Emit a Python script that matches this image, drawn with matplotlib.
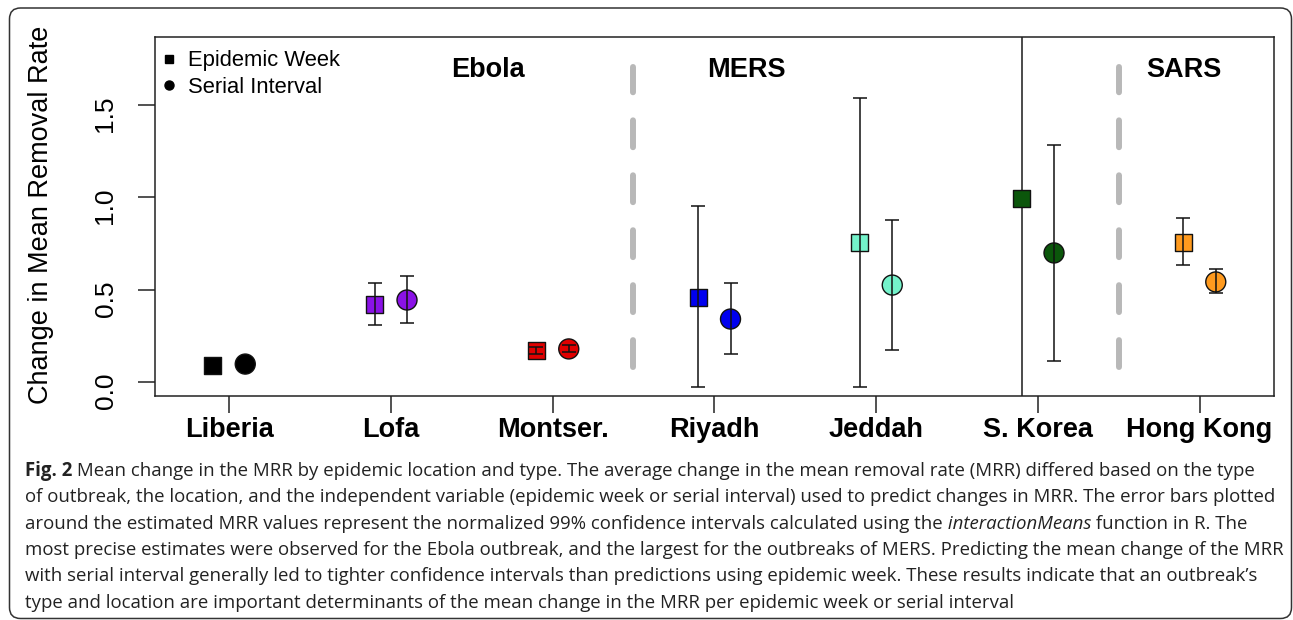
import numpy as np
import matplotlib
matplotlib.use("Agg")
import matplotlib.pyplot as plt
from matplotlib.lines import Line2D
from matplotlib.patches import FancyBboxPatch
from matplotlib.transforms import IdentityTransform

plt.rcParams['font.family'] = ['Liberation Sans', 'DejaVu Sans']

locations = ["Liberia", "Lofa", "Montser.", "Riyadh", "Jeddah", "S. Korea", "Hong Kong"]
colours = ["#000000", "#8a12e6", "#e00000", "#0000ee", "#74f3cb", "#0b560b", "#ff9a1e"]

# epidemic week (squares)
week_mean = [0.087, 0.42, 0.168, 0.46, 0.758, 0.995, 0.758]
week_lo = [0.087, 0.309, 0.149, -0.027, -0.027, 0.995, 0.634]
week_hi = [0.087, 0.536, 0.187, 0.954, 1.538, 0.995, 0.888]

# serial interval (circles)
si_mean = [0.097, 0.444, 0.179, 0.341, 0.525, 0.699, 0.542]
si_lo = [0.097, 0.319, 0.160, 0.152, 0.173, 0.114, 0.482]
si_hi = [0.097, 0.574, 0.198, 0.536, 0.878, 1.284, 0.612]

outbreaks = ["Ebola", "MERS", "SARS"]
outbreak_x = [2.6, 4.2, 6.9]
dashed_breaks = [3.5, 6.5]
solid_break = 5.9

caption = [
    [("Fig. 2", "bold", "normal"),
     (" Mean change in the MRR by epidemic location and type. The average change in the mean removal rate (MRR) differed based on the type", "normal", "normal")],
    [("of outbreak, the location, and the independent variable (epidemic week or serial interval) used to predict changes in MRR. The error bars plotted", "normal", "normal")],
    [("around the estimated MRR values represent the normalized 99% confidence intervals calculated using the", "normal", "normal"),
     (" interactionMeans", "normal", "italic"),
     (" function in R. The", "normal", "normal")],
    [("most precise estimates were observed for the Ebola outbreak, and the largest for the outbreaks of MERS. Predicting the mean change of the MRR", "normal", "normal")],
    [("with serial interval generally led to tighter confidence intervals than predictions using epidemic week. These results indicate that an outbreak\u2019s", "normal", "normal")],
    [("type and location are important determinants of the mean change in the MRR per epidemic week or serial interval", "normal", "normal")],
]
# right end of the lines in the reference, pixels
caption_ends = [1269, 1271, 1262, 1276, 1250, 900]

W, H = 1293, 620
fig = plt.figure(figsize=(W / 100, H / 100), dpi=100)
ax = fig.add_axes([155 / W, 1 - 396 / H, (1274 - 155) / W, (396 - 37) / H])

x = np.arange(1, len(locations) + 1)
xw = x - 0.1
xs = x + 0.1

# separators
for b in dashed_breaks:
    ax.plot([b, b], [0.081, 1.706], color="#b8b8b8", lw=4.3,
            dashes=(4.5, 4.7), dash_capstyle="round", zorder=1)
ax.axvline(solid_break, color="#1a1a1a", lw=1.1, zorder=1)

# points
ax.scatter(xw, week_mean, marker="s", s=12.2 ** 2, c=colours,
           edgecolors="#111111", linewidths=1.0, zorder=2)
ax.scatter(xs, si_mean, marker="o", s=14.4 ** 2, c=colours,
           edgecolors="#111111", linewidths=1.0, zorder=2)

# error bars on top (skip the ones with no width)
for xp, mean, lo, hi in [(xw, week_mean, week_lo, week_hi), (xs, si_mean, si_lo, si_hi)]:
    mean, lo, hi = np.array(mean), np.array(lo), np.array(hi)
    m = hi > lo
    ax.errorbar(xp[m], mean[m], yerr=[mean[m] - lo[m], hi[m] - mean[m]],
                fmt="none", ecolor="#111111", elinewidth=1.1, capsize=4.7,
                capthick=1.1, zorder=3)

for name, ox in zip(outbreaks, outbreak_x):
    ax.text(ox, 1.69, name, ha="center", va="center", fontsize=19.5, fontweight="bold")

ax.set_xlim(0.542, 7.46)
ax.set_ylim(-0.076, 1.869)
ax.set_xticks(x)
ax.set_xticklabels(locations, fontsize=19.5, fontweight="bold")
ax.set_yticks([0, 0.5, 1.0, 1.5])
ax.set_yticklabels(["0.0", "0.5", "1.0", "1.5"], fontsize=19)
ax.tick_params(axis="y", labelrotation=90, length=12, width=1.1, pad=15, color="#222222")
ax.tick_params(axis="x", length=12, width=1.1, pad=3, color="#222222")
for s in ax.spines.values():
    s.set_linewidth(1.1)
    s.set_color("#222222")

ax.set_ylabel("Change in Mean Removal Rate", fontsize=19.5, va="center")
ax.yaxis.set_label_coords(-0.102, 0.504)

handles = [Line2D([], [], marker="s", color="black", ls="none", markersize=6),
           Line2D([], [], marker="o", color="black", ls="none", markersize=6.5)]
ax.legend(handles, ["Epidemic Week", "Serial Interval"], loc="upper left",
          bbox_to_anchor=(0, 0.978), frameon=False, fontsize=15.8, handlelength=0.8,
          handletextpad=0.45, labelspacing=0.25, borderaxespad=0.0, borderpad=0.25)

# caption box
box = FancyBboxPatch((9.5, 1.5), 1282, 610.5, boxstyle="round,pad=0,rounding_size=11",
                     transform=IdentityTransform(), facecolor="none", edgecolor="#333333",
                     lw=1.1, zorder=0)
fig.patches.append(box)

# caption text, sized so no line runs past its end in the reference
renderer = fig.canvas.get_renderer()
cap_font = ["Open Sans", "DejaVu Sans"]


def seg_width(txt, weight, style, size):
    t = fig.text(0, 0, txt, fontsize=size, fontweight=weight, fontstyle=style, family=cap_font)
    w = t.get_window_extent(renderer).width
    t.remove()
    return w


ref = 13.0
scales = []
for line, end in zip(caption[:5], caption_ends[:5]):
    w = sum(seg_width(t, wt, st, ref) for t, wt, st in line)
    scales.append((end - 25) / w)
cap_size = ref * min(scales)

for i, line in enumerate(caption):
    px = 25.0
    base = 476 + i * 26.3
    for txt, weight, style in line:
        t = fig.text(px / W, 1 - base / H, txt, fontsize=cap_size, fontweight=weight,
                     fontstyle=style, family=cap_font, color="#222222", va="baseline")
        px += t.get_window_extent(renderer).width

fig.savefig("out.png", dpi=100)
